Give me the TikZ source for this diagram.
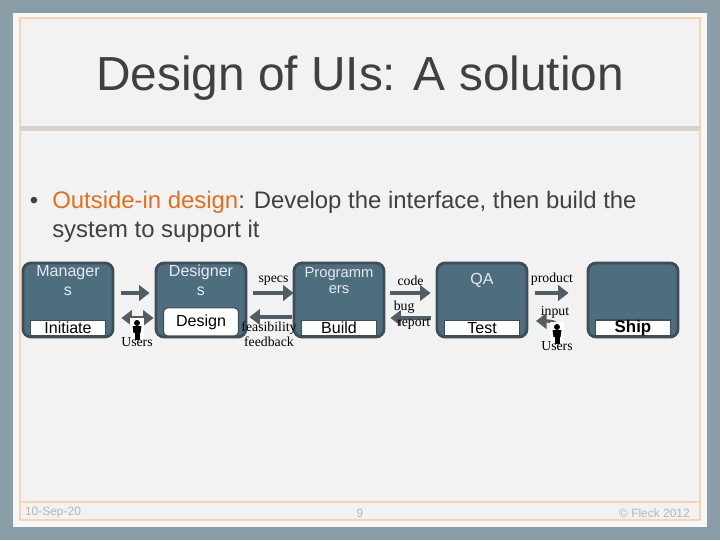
\documentclass[tikz,border=0pt]{standalone}
\usepackage{fontspec}
\setmainfont{Liberation Sans}
\newfontfamily\lblfont{Liberation Serif}
\usetikzlibrary{arrows.meta, calc, positioning}

\definecolor{slide}{HTML}{8A9DA6}
\definecolor{frame}{HTML}{F7F7F7}
\definecolor{paper}{HTML}{F2F2F2}
\definecolor{peach}{HTML}{F6D5B5}
\definecolor{tanbar}{HTML}{D9D0C7}
\definecolor{ink}{HTML}{404040}
\definecolor{accent}{HTML}{E0701F}
\definecolor{boxfill}{HTML}{4E6E80}
\definecolor{boxline}{HTML}{3F4E56}
\definecolor{boxtext}{HTML}{E3EBEF}
\definecolor{arrowgray}{HTML}{525E64}
\definecolor{footgray}{HTML}{B5B5B5}

\begin{document}
\begin{tikzpicture}[x=0.025cm, y=-0.025cm,
  stage/.style={rounded corners=0.2cm, fill=boxfill, draw=boxline, line width=2pt,
    minimum width=2.25cm, minimum height=1.85cm, inner sep=0pt},
  tag/.style={fill=white, draw=boxline, line width=0.8pt, minimum width=1.875cm,
    minimum height=0.375cm, inner sep=0pt, text=black, font=\fontsize{11.4}{12}\selectfont},
  stagename/.style={align=center, text=boxtext, inner sep=0pt,
    font=\fontsize{11.4}{13.5}\selectfont},
  flow/.style={draw=arrowgray, line width=2.8pt, -{Triangle[length=7.5pt, width=11pt]}},
  lbl/.style={font=\lblfont\fontsize{9.8}{11}\selectfont, inner sep=0pt, text=black},
  foot/.style={font=\fontsize{8.5}{9}\selectfont, text=footgray, inner sep=0pt}]

  % slide background
  \fill[slide] (0,0) rectangle (720,540);
  \fill[frame] (13,13) rectangle (707,527);
  \fill[paper] (20,18) rectangle (700,520);
  \draw[peach, line width=1.2pt] (20,18) rectangle (700,520);
  \fill[tanbar] (20,126) rectangle (700,131);
  \draw[peach, line width=1.2pt] (20,502) -- (700,502);

  \node[text=ink, font=\fontsize{34}{40}\selectfont] (title) at (360,78) {Design of UIs: A solution};
  \node[text=ink, font=\fontsize{17}{20}\selectfont, anchor=base, inner sep=0pt] (dot) at (34,208) {\textbullet};
  \node[text=ink, font=\fontsize{17}{20}\selectfont, anchor=base west, inner sep=0pt] (line1) at (52,208)
    {\textcolor{accent}{Outside-in design}: Develop the interface, then build the};
  \node[text=ink, font=\fontsize{17}{20}\selectfont, anchor=base west, inner sep=0pt] (line2) at (52,237)
    {system to support it};

  % stages
  \node[stage] (mgr) at (68,300) {};
  \node[stage] (dsg) at (201,300) {};
  \node[stage] (prg) at (339,300) {};
  \node[stage] (qa) at (482,300) {};
  \node[stage] (ship) at (633,300) {};

  \node[stagename] (mgrname) at ($(mgr.north)+(0,19)$) {Manager\\s};
  \node[stagename] (dsgname) at ($(dsg.north)+(0,19)$) {Designer\\s};
  \node[stagename, font=\fontsize{10.5}{11.5}\selectfont] (prgname) at ($(prg.north)+(0,19)$) {Programm\\ers};
  \node[stagename] (qaname) at ($(qa.north)+(0,19)$) {QA};

  \node[tag] (initiate) at ($(mgr.south)+(0,-10.5)$) {Initiate};
  \node[tag, minimum height=0.7cm, rounded corners=0.1cm] (design) at ($(dsg.south)+(0,-16.5)$) {Design};
  \node[tag] (build) at ($(prg.south)+(0,-10.5)$) {Build};
  \node[tag] (test) at ($(qa.south)+(0,-10.5)$) {Test};
  \node[tag, font=\bfseries\fontsize{12}{13}\selectfont] (shiptag) at ($(ship.south)+(0,-10.5)$) {Ship};

  % hand-overs
  \draw[flow] ($(mgr.east)+(7,-7)$) -- ($(dsg.west)+(-5,-7)$);
  \draw[flow, {Triangle[length=7.5pt, width=11pt]}-{Triangle[length=7.5pt, width=11pt]}]
    ($(mgr.east)+(7,18)$) -- ($(dsg.west)+(-1,18)$);
  \draw[flow] ($(dsg.east)+(6,-7)$) -- node[lbl, above=4pt] (specs) {specs} ($(prg.west)+(1,-7)$);
  \draw[flow] ($(prg.west)+(-1,17)$) -- ($(dsg.east)+(2,17)$);
  \node[lbl, align=center] (feas) at (269,334) {feasibility\\feedback};
  \draw[flow] ($(prg.east)+(5,-7)$) -- node[lbl, above=4pt] (code) {code} ($(qa.west)+(-5,-7)$);
  \draw[flow] ($(qa.west)+(-5,18)$) -- ($(prg.east)+(5,18)$);
  \node[lbl, align=left] (bug) at (412,315) {bug\\\ report};
  \draw[flow] ($(qa.east)+(7,-7)$) -- node[lbl, above=4pt] (product) {product} ($(ship.west)+(-18,-7)$);
  \node[lbl] (input) at (555,312) {input};
  \coordinate (feed) at (561,333);
  \draw[flow, line width=2.4pt] (feed) to[out=90, in=0] ($(feed)+(-13,-12)$) -- ($(feed)+(-25,-12)$);

  % users
  \foreach \ux/\uy/\nm in {137/319/ua, 557/323/ub} {
    \fill[white] (\ux-7,\uy-1) rectangle (\ux+7,\uy+21);
    \fill[black] (\ux,\uy+4) circle (3);
    \fill[black] (\ux-4.5,\uy+7) -- (\ux+4.5,\uy+7) -- (\ux+3.5,\uy+14) -- (\ux-3.5,\uy+14) -- cycle;
    \fill[black] (\ux-2.5,\uy+14) rectangle (\ux+2.5,\uy+21);
    \node[lbl, anchor=north] (\nm) at (\ux,\uy+18) {Users};
  }

  % footer
  \node[foot] (date) at (53,513) {10-Sep-20};
  \node[foot] (page) at (360,513) {9};
  \node[foot, anchor=east] (copy) at (690,513) {© Fleck 2012};
\end{tikzpicture}
\end{document}
